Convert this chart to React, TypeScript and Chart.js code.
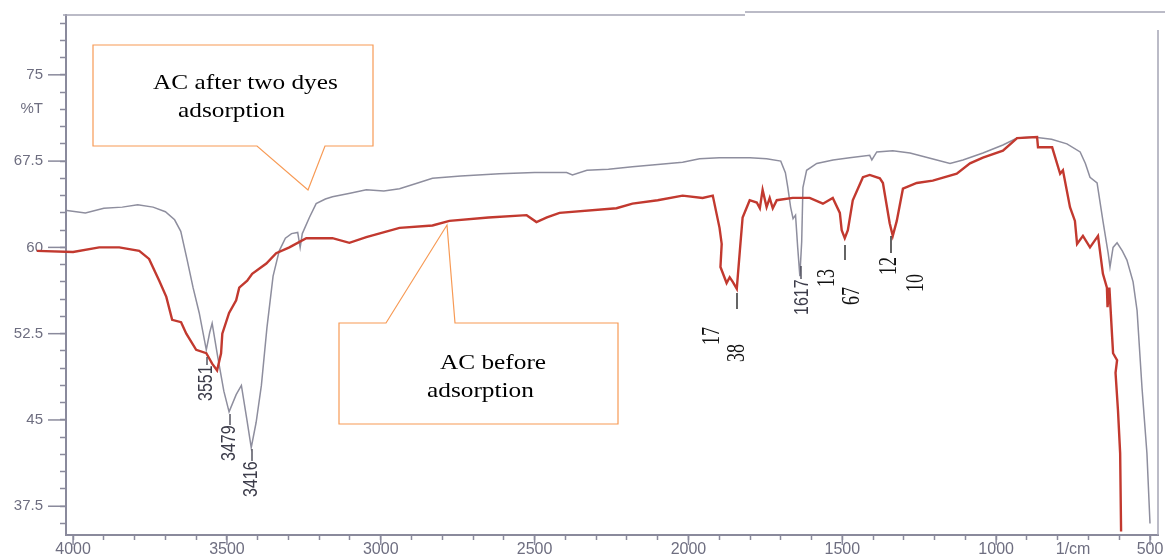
import React, { useEffect, useRef } from 'react';
import { Chart, registerables } from 'chart.js';
Chart.register(...registerables);

// ---- Data ----
// AC after two dyes adsorption (grey trace)
const afterWn = [4020, 3960, 3900, 3840, 3790, 3740, 3700, 3670, 3650, 3630, 3610, 3590, 3567, 3556, 3548, 3530, 3510, 3493, 3470, 3453, 3435, 3421, 3405, 3388, 3370, 3350, 3330, 3310, 3290, 3270, 3262, 3255, 3232, 3210, 3180, 3157, 3100, 3047, 2990, 2939, 2880, 2832, 2740, 2614, 2500, 2396, 2377, 2330, 2260, 2182, 2100, 2019, 1964, 1900, 1800, 1746, 1700, 1685, 1677, 1668, 1660, 1652, 1645, 1638, 1632, 1628, 1616, 1583, 1530, 1476, 1411, 1404, 1388, 1336, 1280, 1193, 1150, 1108, 1043, 978, 932, 880, 820, 770, 727, 710, 695, 672, 653, 636, 630, 620, 607, 590, 575, 555, 542, 526, 510, 500];
const afterT = [63.2, 63.0, 63.4, 63.5, 63.7, 63.5, 63.1, 62.4, 61.4, 59.0, 56.5, 54.3, 51.1, 52.6, 53.4, 50.5, 47.5, 45.7, 47.2, 48.0, 45.0, 42.6, 44.8, 48.0, 53.0, 57.5, 59.7, 60.8, 61.2, 61.3, 60.0, 61.2, 62.6, 63.8, 64.2, 64.4, 64.7, 65.0, 64.9, 65.1, 65.6, 66.0, 66.2, 66.4, 66.5, 66.5, 66.3, 66.7, 66.8, 67.0, 67.2, 67.4, 67.7, 67.8, 67.8, 67.7, 67.5, 66.5, 65.2, 63.5, 62.5, 62.8, 60.0, 57.5, 60.5, 65.2, 66.7, 67.3, 67.6, 67.8, 68.0, 67.6, 68.3, 68.4, 68.2, 67.6, 67.3, 67.6, 68.2, 68.9, 69.5, 69.6, 69.4, 69.0, 68.3, 67.3, 66.1, 65.6, 62.3, 59.5, 58.3, 60.0, 60.4, 59.7, 58.9, 57.0, 54.5, 47.8, 42.1, 36.0];

// AC before adsorption (red trace)
const beforeWn = [4118, 4000, 3915, 3850, 3785, 3753, 3720, 3697, 3678, 3649, 3632, 3600, 3567, 3548, 3532, 3519, 3515, 3493, 3470, 3460, 3434, 3418, 3372, 3340, 3297, 3242, 3157, 3102, 3047, 2939, 2832, 2777, 2650, 2526, 2494, 2460, 2419, 2234, 2182, 2100, 2019, 1954, 1921, 1899, 1892, 1896, 1876, 1866, 1856, 1843, 1833, 1824, 1801, 1778, 1768, 1759, 1746, 1736, 1726, 1713, 1661, 1606, 1563, 1531, 1508, 1502, 1492, 1482, 1466, 1433, 1411, 1378, 1368, 1346, 1336, 1323, 1303, 1258, 1206, 1128, 1085, 1043, 978, 932, 867, 864, 818, 792, 783, 760, 744, 737, 718, 695, 669, 653, 640, 638, 632, 623, 620, 607, 612, 604, 597, 594];
const beforeT = [59.7, 59.6, 60.0, 60.0, 59.7, 59.0, 57.1, 55.7, 53.7, 53.5, 52.5, 51.1, 50.8, 49.9, 49.3, 50.8, 52.5, 54.3, 55.4, 56.5, 57.1, 57.7, 58.6, 59.5, 60.0, 60.8, 60.8, 60.4, 60.9, 61.7, 61.9, 62.3, 62.6, 62.8, 62.2, 62.6, 63.0, 63.4, 63.8, 64.1, 64.5, 64.3, 64.5, 61.7, 60.3, 58.3, 56.9, 57.4, 57.0, 56.4, 59.7, 62.6, 64.1, 63.9, 63.4, 65.0, 63.5, 64.3, 63.4, 64.1, 64.3, 64.3, 63.8, 64.3, 63.0, 61.5, 60.8, 61.5, 64.1, 66.1, 66.3, 66.0, 65.6, 62.1, 61.0, 62.3, 65.1, 65.6, 65.8, 66.4, 67.3, 67.8, 68.4, 69.5, 69.6, 68.7, 68.7, 66.4, 66.7, 63.5, 62.3, 60.3, 61.0, 60.0, 61.0, 57.7, 56.5, 54.8, 56.5, 52.2, 50.8, 50.2, 49.1, 45.8, 42.1, 35.3];

// Axis ticks
const xTickValues = [4000, 3900, 3800, 3700, 3600, 3500, 3400, 3300, 3200, 3100, 3000, 2900, 2800, 2700, 2600, 2500, 2400, 2300, 2200, 2100, 2000, 1900, 1800, 1700, 1600, 1500, 1400, 1300, 1200, 1100, 1000, 900, 800, 750, 700, 600, 500];
const xMajorValues = [4000, 3500, 3000, 2500, 2000, 1500, 1000, 500];
const xLabelValues = [4000, 3500, 3000, 2500, 2000, 1500, 1000, 750, 500];
const xLabelTexts = ['4000', '3500', '3000', '2500', '2000', '1500', '1000', '1/cm', '500'];

const yTickValues = [36, 37.5, 39, 40.5, 42, 43.5, 45, 46.5, 48, 49.5, 51, 52.5, 54, 55.5, 57, 58.5, 60, 61.5, 63, 64.5, 66, 67.5, 69, 70.5, 72, 73.5, 75, 76.5, 78, 79.5];
const yMajorValues = [37.5, 45, 52.5, 60, 67.5, 75];
const yLabelValues = [37.5, 45, 52.5, 60, 67.5, 72, 75];
const yLabelTexts = ['37.5', '45', '52.5', '60', '67.5', '%T', '75'];

// Annotation texts
const calloutAfter = ['AC after two dyes', 'adsorption'];
const calloutBefore = ['AC before', 'adsorption'];
const peakSans = ['3551', '3479', '3416', '1617'];
const peakSerif = ['17', '38', '13', '67', '12', '10'];

const AXIS = '#8a8a9c';
const TICKTXT = '#6e6e80';
const ORANGE = '#f79a55';

function stext(ctx: CanvasRenderingContext2D, t: string, x: number, y: number, sx: number) {
  ctx.save();
  ctx.translate(x, y);
  ctx.scale(sx, 1);
  ctx.fillText(t, 0, 0);
  ctx.restore();
}

function vtext(ctx: CanvasRenderingContext2D, t: string, cx: number, yBottom: number, sx: number) {
  ctx.save();
  ctx.translate(cx, yBottom);
  ctx.scale(sx, 1);
  ctx.rotate(-Math.PI / 2);
  ctx.textAlign = 'left';
  ctx.textBaseline = 'middle';
  ctx.fillText(t, 0, 0);
  ctx.restore();
}

function seg(ctx: CanvasRenderingContext2D, x1: number, y1: number, x2: number, y2: number) {
  ctx.beginPath();
  ctx.moveTo(x1, y1);
  ctx.lineTo(x2, y2);
  ctx.stroke();
}

const decor = {
  id: 'decor',
  afterDraw(chart: any) {
    const ctx: CanvasRenderingContext2D = chart.ctx;
    const { left, right, top, bottom } = chart.chartArea;
    const xs = chart.scales.x;
    const ys = chart.scales.y;
    ctx.save();
    // long major tick marks
    ctx.strokeStyle = AXIS;
    ctx.lineWidth = 1.5;
    xMajorValues.forEach((v) => {
      const px = xs.getPixelForValue(v);
      seg(ctx, px, bottom, px, bottom + 10);
    });
    yMajorValues.forEach((v) => {
      const py = ys.getPixelForValue(v);
      seg(ctx, left - 18, py, left, py);
    });
    // frame top / right
    ctx.strokeStyle = '#a4a4b4';
    ctx.lineWidth = 1.5;
    seg(ctx, left - 3, top, 745, top);
    seg(ctx, 745, top - 3, 1165, top - 3);
    seg(ctx, right, top + 15, right, bottom);

    // callout 1
    ctx.lineWidth = 1.2;
    ctx.strokeStyle = ORANGE;
    ctx.fillStyle = '#ffffff';
    ctx.beginPath();
    ctx.moveTo(93, 45);
    ctx.lineTo(373, 45);
    ctx.lineTo(373, 146);
    ctx.lineTo(325, 146);
    ctx.lineTo(308, 190);
    ctx.lineTo(257, 146);
    ctx.lineTo(93, 146);
    ctx.closePath();
    ctx.fill();
    ctx.stroke();
    // callout 2
    ctx.beginPath();
    ctx.moveTo(339, 323);
    ctx.lineTo(386, 323);
    ctx.lineTo(447, 225);
    ctx.lineTo(455, 323);
    ctx.lineTo(618, 323);
    ctx.lineTo(618, 424);
    ctx.lineTo(339, 424);
    ctx.closePath();
    ctx.fill();
    ctx.stroke();

    ctx.fillStyle = '#000000';
    ctx.font = '22px "Liberation Serif", "Times New Roman", serif';
    ctx.textAlign = 'left';
    ctx.textBaseline = 'alphabetic';
    stext(ctx, calloutAfter[0], 153, 89, 1.15);
    stext(ctx, calloutAfter[1], 178, 117, 1.15);
    stext(ctx, calloutBefore[0], 440, 369, 1.15);
    stext(ctx, calloutBefore[1], 427, 397, 1.15);

    // sans peak labels (grey)
    ctx.fillStyle = '#3c3c4a';
    ctx.strokeStyle = '#3c3c4a';
    ctx.lineWidth = 1.3;
    ctx.font = '16px "Liberation Sans", Arial, sans-serif';
    vtext(ctx, peakSans[0], 206, 401, 1.3);
    seg(ctx, 207, 365, 207, 357);
    vtext(ctx, peakSans[1], 229, 461, 1.3);
    seg(ctx, 230, 425, 230, 414);
    vtext(ctx, peakSans[2], 251, 497, 1.3);
    seg(ctx, 252, 461, 252, 449);
    vtext(ctx, peakSans[3], 802, 315, 1.3);
    seg(ctx, 801, 279, 801, 266);

    // serif peak labels (black)
    ctx.fillStyle = '#111111';
    ctx.strokeStyle = '#111111';
    ctx.font = '18px "Liberation Serif", "Times New Roman", serif';
    vtext(ctx, peakSerif[0], 713, 345, 1.35);
    vtext(ctx, peakSerif[1], 738, 362, 1.35);
    seg(ctx, 737, 293, 737, 309);
    vtext(ctx, peakSerif[2], 828, 287, 1.35);
    vtext(ctx, peakSerif[3], 853, 305, 1.35);
    seg(ctx, 845, 245, 845, 260);
    vtext(ctx, peakSerif[4], 890, 275, 1.35);
    seg(ctx, 891, 236, 891, 253);
    vtext(ctx, peakSerif[5], 917, 292, 1.35);
    ctx.restore();
  },
};

export default function App() {
  const ref = useRef<HTMLCanvasElement | null>(null);
  useEffect(() => {
    if (!ref.current) return;
    const before = beforeWn.map((x, i) => ({ x, y: beforeT[i] }));
    const after = afterWn.map((x, i) => ({ x, y: afterT[i] }));
    const chart = new Chart(ref.current, {
      type: 'line',
      data: {
        datasets: [
          {
            label: 'AC before adsorption',
            data: before,
            borderColor: '#c2392f',
            borderWidth: 2.4,
            pointRadius: 0,
            tension: 0,
            clip: false as any,
          },
          {
            label: 'AC after two dyes adsorption',
            data: after,
            borderColor: '#8e8e9e',
            borderWidth: 1.5,
            pointRadius: 0,
            tension: 0,
          },
        ],
      },
      options: {
        animation: false,
        responsive: false,
        layout: { autoPadding: false, padding: { top: 15, right: 7, left: 0, bottom: 0 } } as any,
        plugins: { legend: { display: false }, tooltip: { enabled: false }, title: { display: false } },
        scales: {
          x: {
            type: 'linear',
            reverse: true,
            min: 474,
            max: 4023,
            afterBuildTicks: (s: any) => {
              s.ticks = xTickValues.map((v) => ({ value: v }));
            },
            afterFit: (s: any) => {
              s.height = 23;
              s.paddingLeft = 0;
              s.paddingRight = 0;
            },
            grid: {
              drawOnChartArea: false,
              drawTicks: true,
              tickLength: 5,
              tickColor: (c: any) => (c.tick && c.tick.value === 750 ? 'rgba(0,0,0,0)' : AXIS),
              tickWidth: 1.5,
            },
            border: { display: true, color: AXIS, width: 2 },
            ticks: {
              autoSkip: false,
              maxRotation: 0,
              padding: 0,
              color: TICKTXT,
              font: { family: '"Liberation Sans", Arial, sans-serif', size: 16 },
              callback: (v: any) => {
                const i = xLabelValues.indexOf(Number(v));
                return i >= 0 ? xLabelTexts[i] : '';
              },
            },
          },
          y: {
            type: 'linear',
            min: 35,
            max: 80.2,
            afterBuildTicks: (s: any) => {
              s.ticks = yTickValues.map((v) => ({ value: v }));
            },
            afterFit: (s: any) => {
              s.width = 66;
              s.paddingTop = 0;
              s.paddingBottom = 0;
            },
            grid: {
              drawOnChartArea: false,
              drawTicks: true,
              tickLength: 6,
              tickColor: AXIS,
              tickWidth: 1.5,
            },
            border: { display: true, color: AXIS, width: 2 },
            ticks: {
              autoSkip: false,
              padding: 17,
              color: TICKTXT,
              font: { family: '"Liberation Sans", Arial, sans-serif', size: 15 },
              callback: (v: any) => {
                const i = yLabelValues.indexOf(Number(v));
                return i >= 0 ? yLabelTexts[i] : '';
              },
            },
          },
        },
      },
      plugins: [decor],
    });
    return () => chart.destroy();
  }, []);
  return (
    <div style={{ position: 'absolute', left: 0, top: 0, width: 1165, height: 558, background: '#ffffff' }}>
      <canvas ref={ref} width={1165} height={558} />
    </div>
  );
}
